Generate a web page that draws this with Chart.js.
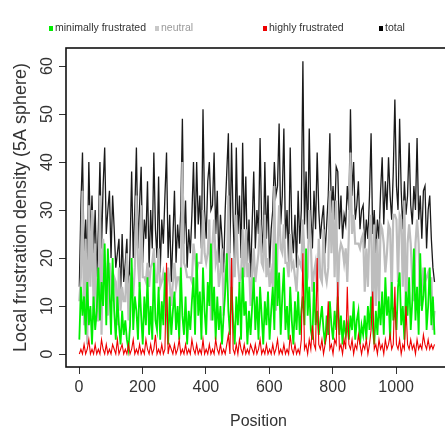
<!DOCTYPE html>
<html>
<head>
<meta charset="utf-8">
<script src="https://cdn.jsdelivr.net/npm/chart.js@4.4.1/dist/chart.umd.min.js"></script>
<style>
	html, body {margin: 0; padding: 0; background: #fff; overflow: hidden;}
	#wrap {position: relative; width: 445px; height: 434px; overflow: hidden;}
	#chart {position: absolute; left: 0; top: 0;}
	.key {position: absolute; top: 21px; font: 10.5px "Liberation Sans", Arial, sans-serif; color: #333; white-space: nowrap; line-height: 12px;}
	.key i {display: inline-block; width: 4px; height: 5px; margin-right: 2px; vertical-align: 0px;}
</style>
</head>
<body>
<div id="wrap">
	<canvas id="chart" width="470" height="434"></canvas>
	<div class="key" style="left:49px"><i style="background:#00ee00"></i>minimally frustrated</div>
	<div class="key" style="left:155px; color:#999"><i style="background:#c8c8c8"></i>neutral</div>
	<div class="key" style="left:263px"><i style="background:#ee0000"></i>highly frustrated</div>
	<div class="key" style="left:379px"><i style="background:#000"></i>total</div>
</div>
<script>
// sampled every 5 residues, starting at position 1
var step = 5;

var total = [
	14,31,42,20,28,18,40,24,33,21,
	30,16,26,40,22,35,43,25,30,34,
	20,33,26,18,21,24,12,25,15,19,
	24,10,22,38,20,30,43,22,31,39,
	19,28,24,36,18,30,22,42,26,20,
	37,17,28,23,33,42,20,29,15,24,
	34,19,27,22,30,49,23,32,18,26,
	21,29,40,24,40,27,33,22,51,30,
	24,36,40,30,31,42,25,34,19,29,
	24,17,30,38,46,21,44,28,18,43,
	25,33,20,44,26,37,19,28,16,27,
	38,22,30,25,45,27,21,40,24,33,
	18,26,30,40,33,35,48,27,33,47,
	24,30,19,43,26,21,29,18,34,23,
	30,61,27,38,24,47,29,22,34,26,
	42,30,24,28,31,21,27,33,46,29,
	35,28,39,38,26,33,24,29,27,35,
	30,51,33,40,28,31,36,26,30,31,
	22,28,24,33,46,25,30,21,28,24,
	34,41,27,36,30,41,33,28,38,53,
	35,30,49,34,26,36,29,33,44,31,
	27,35,30,45,28,33,24,34,35,22,
	30,33,24,18,15
];

var neutral = [
	11,16,34,6,24,2,31,14,30,9,
	23,7,7,33,4,24,20,17,8,19,
	16,11,16,15,6,18,9,14,11,11,
	21,7,16,17,12,18,33,19,14,31,
	16,16,15,19,14,18,19,22,15,15,
	22,14,15,17,15,13,18,15,10,15,
	19,14,16,16,12,40,19,18,16,16,
	16,15,23,20,17,19,19,19,30,21,
	19,21,28,7,23,28,19,21,14,17,
	22,8,17,15,33,17,10,20,16,29,
	19,15,16,26,16,26,16,19,10,16,
	22,15,18,21,28,19,18,29,16,20,
	14,17,14,35,9,22,31,22,21,27,
	19,19,16,25,18,19,16,13,20,19,
	18,28,20,14,16,30,23,13,17,19,
	13,24,16,15,26,17,15,18,34,21,
	32,16,32,11,21,23,22,19,22,15,
	25,42,25,29,23,23,23,22,24,25,
	13,22,14,26,29,6,27,10,24,10,
	27,26,23,17,21,27,26,12,29,29,
	28,15,29,28,14,32,6,23,27,23,
	15,11,23,28,23,10,14,18,15,16,
	17,14,16,5,9
];

var minimal = [
	3,14,8,12,4,15,6,10,2,12,
	5,9,18,7,15,10,23,6,22,14,
	4,20,9,3,12,6,2,9,4,7,
	3,1,6,20,5,12,9,3,15,8,
	2,12,6,16,4,10,3,19,7,5,
	14,3,11,6,17,10,2,12,4,9,
	13,5,10,3,18,8,4,12,2,9,
	5,11,16,4,21,8,13,3,18,9,
	4,15,10,23,7,14,3,12,5,10,
	2,8,13,21,9,4,14,7,2,12,
	6,15,3,18,8,11,2,9,4,10,
	16,5,12,3,14,8,2,11,6,13,
	3,9,14,5,23,10,17,4,12,18,
	5,10,3,14,7,2,11,5,13,4,
	9,12,6,22,8,14,5,3,15,6,
	9,4,7,10,5,2,8,4,11,6,
	3,9,5,12,4,8,2,7,4,6,
	3,8,5,11,3,7,9,2,6,4,
	8,3,10,5,12,6,2,9,4,11,
	6,13,4,16,8,12,3,15,7,10,
	5,14,17,6,10,3,13,8,16,5,
	11,22,7,14,4,21,9,12,18,5,
	10,18,6,12,4
];

var high = [
	0,1,0,2,0,1,3,0,1,0,
	2,0,1,0,3,1,0,2,0,1,
	0,2,1,0,3,0,1,2,0,1,
	0,2,0,1,3,0,1,0,2,0,
	1,0,3,1,0,2,0,1,4,0,
	1,0,2,0,1,19,0,2,1,0,
	2,0,1,3,0,1,0,2,0,1,
	0,3,1,0,2,0,1,0,3,0,
	1,0,2,0,1,0,3,1,0,2,
	0,1,0,2,4,0,20,1,0,2,
	0,3,1,0,2,0,1,0,2,1,
	0,2,0,1,3,0,1,0,2,0,
	1,0,2,0,1,3,0,1,0,2,
	0,1,0,4,1,0,2,0,1,0,
	3,21,1,2,0,3,1,6,2,1,
	20,2,1,3,0,2,4,11,1,2,
	0,3,2,15,1,2,0,3,1,14,
	2,1,3,0,2,1,4,2,0,2,
	1,3,0,2,5,13,1,2,0,3,
	1,2,0,3,1,2,4,1,2,14,
	2,1,3,0,2,1,10,2,1,3,
	1,2,0,3,1,2,1,4,2,1,
	3,1,2,1,2
];

var xTicks = [0, 200, 400, 600, 800, 1000];
var yTicks = [0, 10, 20, 30, 40, 50, 60];

function points(values)
{
	return values.map(function (v, i) {return {x: 1 + i * step, y: v}});
}

function series(values, color, width, order)
{
	return {
		data: points(values),
		borderColor: color,
		borderWidth: width,
		pointRadius: 0,
		tension: 0,
		fill: false,
		order: order
	};
}

var boxPlugin =
{
	id: 'box',
	afterDatasetsDraw: function (chart)
	{
		var a = chart.chartArea;
		var ctx = chart.ctx;
		ctx.save();
		ctx.strokeStyle = '#111';
		ctx.lineWidth = 1.6;
		ctx.strokeRect(a.left, a.top, a.right - a.left, a.bottom - a.top);
		ctx.restore();
	}
};

Chart.defaults.font.family = '"Liberation Sans", Arial, Helvetica, sans-serif';
Chart.defaults.color = '#333';

new Chart(document.getElementById('chart'),
{
	type: 'line',
	data:
	{
		datasets: [
			series(high, '#ee0000', 1.1, 0),
			series(minimal, '#00ee00', 1.8, 1),
			series(neutral, '#bdbdbd', 2.2, 2),
			series(total, '#1a1a1a', 1.3, 3)
		]
	},
	plugins: [boxPlugin],
	options:
	{
		responsive: false,
		animation: false,
		events: [],
		layout: {padding: {top: 48, right: 19, left: 0, bottom: 0}},
		plugins: {legend: {display: false}, tooltip: {enabled: false}},
		scales:
		{
			x:
			{
				type: 'linear',
				min: -41,
				max: 1173,
				afterBuildTicks: function (s) {s.ticks = xTicks.map(function (v) {return {value: v}})},
				afterFit: function (s) {s.height = 67},
				grid: {drawOnChartArea: false, tickLength: 7, color: '#333', lineWidth: 1},
				border: {display: false},
				ticks: {font: {size: 16}, padding: 4, maxRotation: 0, autoSkip: false, color: '#333', callback: function (v) {return String(v)}},
				title: {display: true, text: 'Position', font: {size: 16}, padding: {bottom: 3}, color: '#333'}
			},
			y:
			{
				min: -2.7,
				max: 63.75,
				afterBuildTicks: function (s) {s.ticks = yTicks.map(function (v) {return {value: v}})},
				afterFit: function (s) {s.width = 66},
				grid: {drawOnChartArea: false, tickLength: 7, color: '#333', lineWidth: 1},
				border: {display: false},
				ticks: {font: {size: 16}, padding: 3, minRotation: 90, maxRotation: 90, crossAlign: 'center', autoSkip: false, color: '#333', callback: function (v) {return String(v)}},
				title: {display: true, text: 'Local frustration density (5A sphere)', font: {size: 18}, padding: {top: 10}, color: '#333'}
			}
		}
	}
});
</script>
</body>
</html>
